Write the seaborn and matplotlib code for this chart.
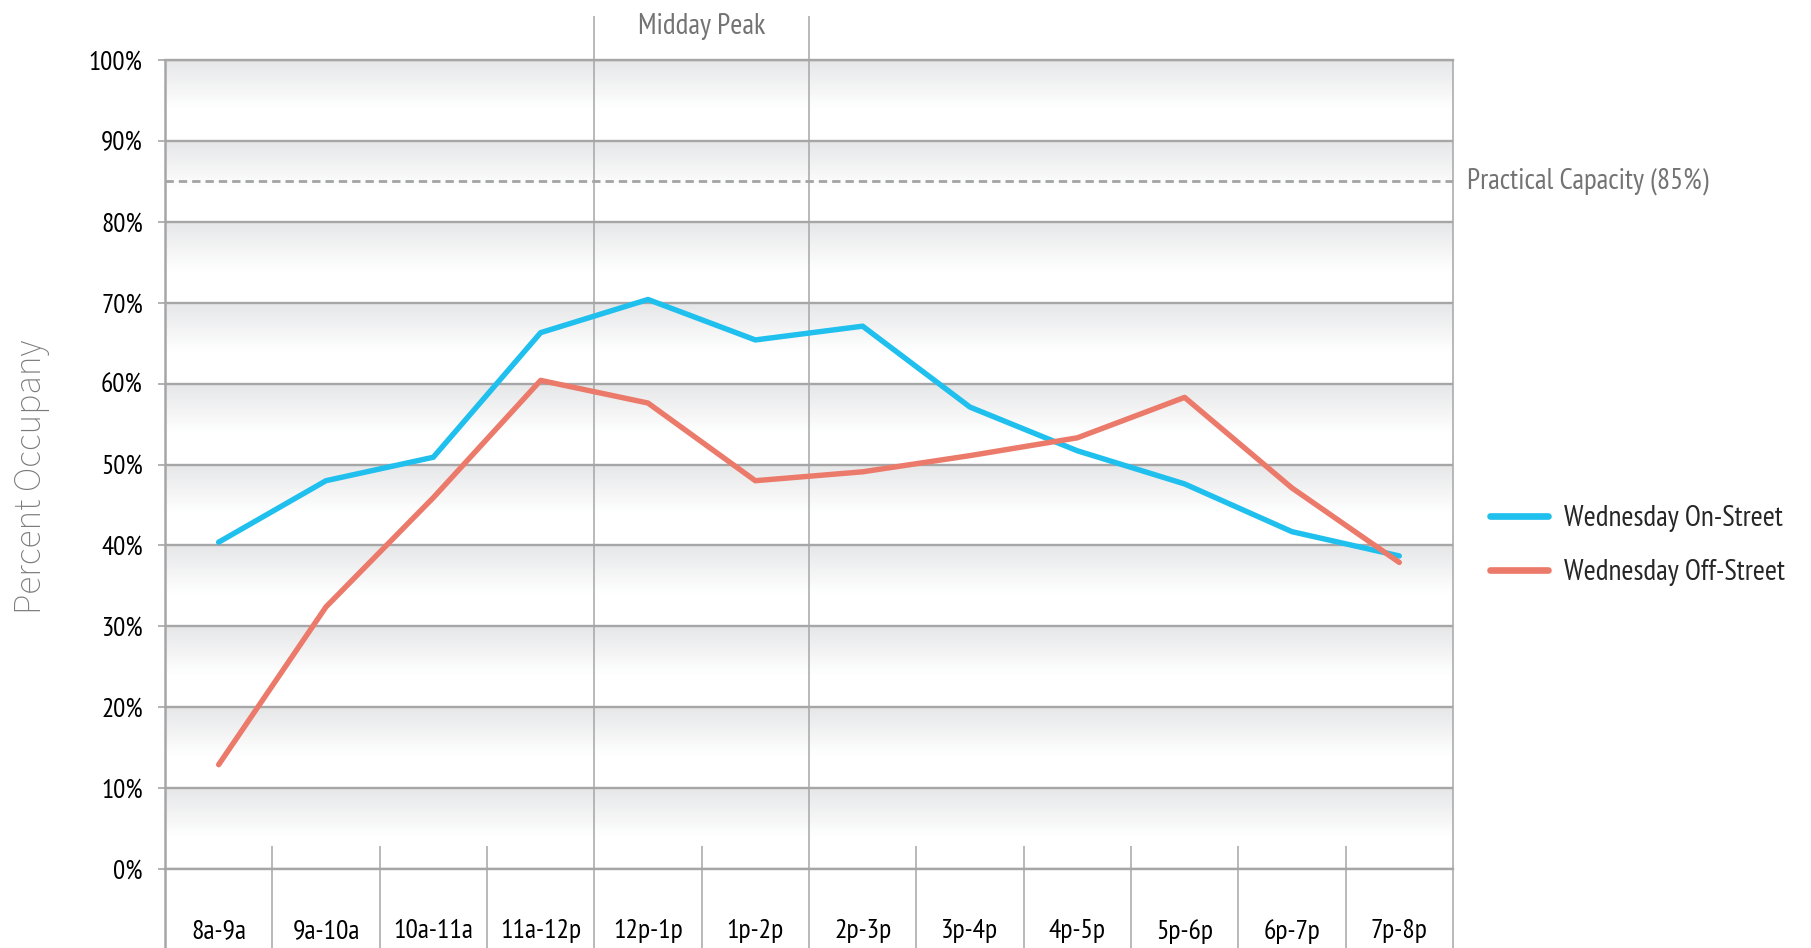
import matplotlib
matplotlib.use('Agg')
import matplotlib.pyplot as plt
import seaborn as sns
import numpy as np
import pandas as pd
from matplotlib.colors import LinearSegmentedColormap

# data (percent occupancy)
time_slots = ['8a-9a', '9a-10a', '10a-11a', '11a-12p', '12p-1p', '1p-2p',
              '2p-3p', '3p-4p', '4p-5p', '5p-6p', '6p-7p', '7p-8p']
on_street = [40.4, 48.0, 50.9, 66.3, 70.4, 65.4, 67.1, 57.1, 51.7, 47.6, 41.7, 38.7]
off_street = [12.9, 32.4, 45.9, 60.4, 57.6, 48.0, 49.1, 51.1, 53.3, 58.3, 47.1, 37.9]
series_names = ['Wednesday On-Street', 'Wednesday Off-Street']
series_colors = ['#1fbfee', '#ec7a6b']
y_ticks = list(range(0, 101, 10))
practical_capacity = 85

GRID = '#a6a6a6'
LABEL_GRAY = '#737373'
FS = 21

sns.set_style('white')
plt.rcParams['font.family'] = ['PT Sans Narrow', 'DejaVu Sans']

df = pd.DataFrame({
    'slot': time_slots * 2,
    'pct': on_street + off_street,
    'series': [series_names[0]] * len(time_slots) + [series_names[1]] * len(time_slots),
})

fig = plt.figure(figsize=(18.11, 9.48), dpi=100)
ax = fig.add_axes([0.0911, 0.0833, 0.7112, 0.8534])

# banded gradient background, gray at the top of each 10% band fading to white
n = len(time_slots)
cmap = LinearSegmentedColormap.from_list('band', [(0, '#e6e7e8'), (0.6, '#ffffff'), (1, '#ffffff')])
grad = np.linspace(0, 1, 100).reshape(-1, 1)
for lo, hi in zip(y_ticks[:-1], y_ticks[1:]):
    ax.imshow(grad, extent=(-0.5, n - 0.5, lo, hi), aspect='auto', cmap=cmap,
              origin='upper', zorder=0, interpolation='bilinear')

sns.lineplot(data=df, x='slot', y='pct', hue='series', palette=series_colors,
             linewidth=3.9, sort=False, ax=ax, zorder=3)

ax.set_xlim(-0.5, n - 0.5)
ax.set_ylim(0, 100)
ax.set_xlabel('')
ax.set_ylabel('')

ax.set_yticks(y_ticks)
ax.set_yticklabels([f'{v}%' for v in y_ticks], fontsize=19.5, color='black')
ax.tick_params(axis='y', length=5, width=1.2, color=GRID, pad=11, left=True)
ax.set_xticks(range(n))
ax.set_xticklabels(time_slots, fontsize=20, color='black')
ax.tick_params(axis='x', length=0, pad=36)

ax.yaxis.grid(True, color=GRID, lw=1.7)
ax.xaxis.grid(False)
ax.set_axisbelow(True)
for side in ['left', 'right']:
    ax.spines[side].set_visible(False)
for side in ['top', 'bottom']:
    ax.spines[side].set_color(GRID)
    ax.spines[side].set_linewidth(1.7)

# practical capacity line
ax.axhline(practical_capacity, color='#a3a3a3', lw=2, dashes=(3, 1.8), zorder=2)
ax.text(1.011, practical_capacity, 'Practical Capacity (85%)', transform=ax.get_yaxis_transform(),
        ha='left', va='center', fontsize=FS, color=LABEL_GRAY)

# vertical dividers
ax.vlines([-0.5], -12, 100, colors=GRID, lw=1.8, clip_on=False, zorder=2)
ax.vlines([n - 0.5], -12, 100, colors=GRID, lw=1.1, clip_on=False, zorder=2)
ax.vlines([3.5, 5.5], -12, 105.4, colors=GRID, lw=1.1, clip_on=False, zorder=2)
short = [k + 0.5 for k in range(n - 1) if k not in (3, 5)]
ax.vlines(short, -12, 2.9, colors=GRID, lw=1.1, clip_on=False, zorder=2)
ax.text(4.5, 104.2, 'Midday Peak', ha='center', va='center', fontsize=FS,
        color=LABEL_GRAY, clip_on=False)

# legend
handles, labels = ax.get_legend_handles_labels()
for h in handles:
    h.set_linewidth(4.8)
ax.legend(handles, labels, loc='center left', bbox_to_anchor=(0.8228, 0.4245),
          bbox_transform=fig.transFigure, frameon=False, fontsize=FS,
          handlelength=2.0, handletextpad=0.55, labelspacing=0.95,
          borderpad=0, borderaxespad=0)

fig.text(0.0175, 0.497, 'Percent Occupany', rotation=90, ha='center', va='center',
         fontsize=27, color='#7a7a7a', family=['Source Sans 3', 'DejaVu Sans'])

fig.savefig('out.png', dpi=100)
